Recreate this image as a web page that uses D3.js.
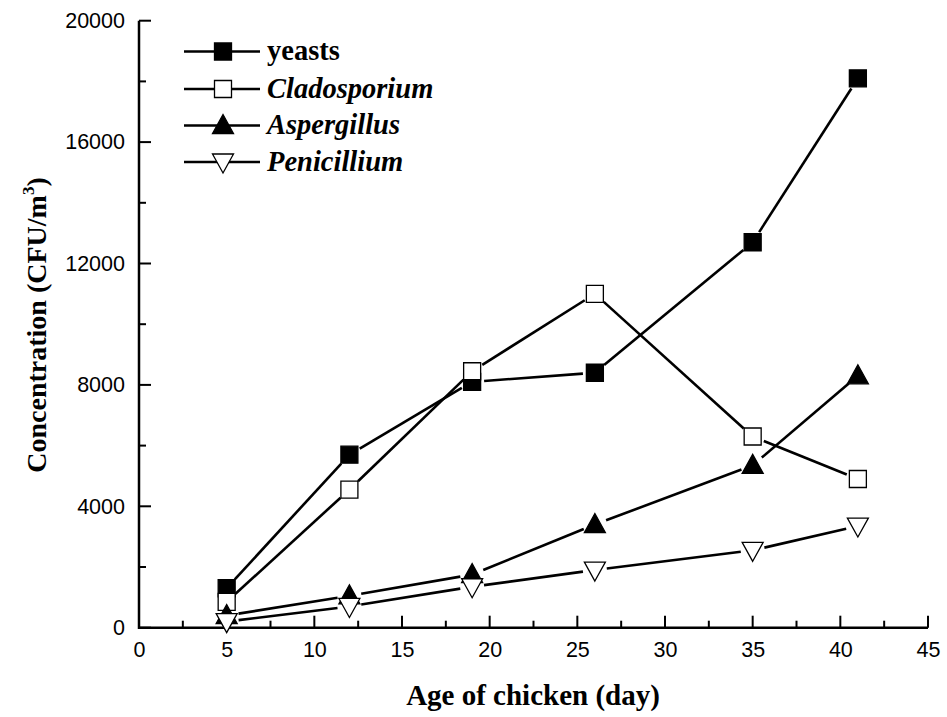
<!DOCTYPE html>
<html>
<head>
<meta charset="utf-8">
<script src="https://cdn.jsdelivr.net/npm/d3@7"></script>
<style>
  body { margin: 0; background: #fff; }
</style>
</head>
<body>
<div id="mainDiv"></div>
<script>
'use strict';

var days = [5, 12, 19, 26, 35, 41];
var yeasts = [1300, 5700, 8100, 8400, 12700, 18100];
var cladosporium = [850, 4550, 8450, 11000, 6300, 4900];
var aspergillus = [400, 1050, 1750, 3400, 5350, 8300];
var penicillium = [200, 700, 1350, 1900, 2550, 3350];
var seriesNames = ["yeasts", "Cladosporium", "Aspergillus", "Penicillium"];
var xTicks = [0, 5, 10, 15, 20, 25, 30, 35, 40, 45];
var yTicks = [0, 4000, 8000, 12000, 16000, 20000];

var myApp = {};

myApp.width = 947;
myApp.height = 717;
myApp.left = 139;
myApp.right = 928;
myApp.top = 20.7;
myApp.bottom = 627.7;
myApp.serif = "'Liberation Serif', 'Times New Roman', serif";
myApp.sans = "'Liberation Sans', Arial, sans-serif";

myApp.symbolPath = function (kind) {
    if (kind === "square") return "M-8.5,-8.5H8.5V8.5H-8.5Z";
    if (kind === "up") return "M0,-11L10.5,8L-10.5,8Z";
    return "M0,11L10.5,-8L-10.5,-8Z";
};

myApp.run = function () {
    var svg = d3.select("#mainDiv").append("svg")
        .attr("width", myApp.width)
        .attr("height", myApp.height);

    var x = d3.scaleLinear().domain([0, 45]).range([myApp.left, myApp.right]);
    var y = d3.scaleLinear().domain([0, 20000]).range([myApp.bottom, myApp.top]);

    var series = [
        { name: seriesNames[0], values: yeasts, shape: "square", fill: "#000", italic: false },
        { name: seriesNames[1], values: cladosporium, shape: "square", fill: "#fff", italic: true },
        { name: seriesNames[2], values: aspergillus, shape: "up", fill: "#000", italic: true },
        { name: seriesNames[3], values: penicillium, shape: "down", fill: "#fff", italic: true }
    ];

    // axes (left + bottom only, ticks pointing in)
    var xAxis = d3.axisBottom(x).tickValues(xTicks).tickFormat(d3.format("d")).tickSize(0).tickPadding(14);
    var gx = svg.append("g").attr("transform", "translate(0," + myApp.bottom + ")").call(xAxis);
    gx.select(".domain").remove();
    gx.selectAll("text").attr("font-family", myApp.sans)
        .attr("font-size", "21.5px").attr("fill", "#000");

    var yAxis = d3.axisLeft(y).tickValues(yTicks).tickFormat(d3.format("d")).tickSize(0).tickPadding(14);
    var gy = svg.append("g").attr("transform", "translate(" + myApp.left + ",0)").call(yAxis);
    gy.select(".domain").remove();
    gy.selectAll("text").attr("font-family", myApp.sans)
        .attr("font-size", "21.5px").attr("fill", "#000");

    var tickG = svg.append("g").attr("stroke", "#000").attr("stroke-width", 2);
    d3.range(0, 45.01, 2.5).forEach(function (v) {
        var major = Math.abs(v % 5) < 1e-6;
        tickG.append("line").attr("x1", x(v)).attr("x2", x(v))
            .attr("y1", myApp.bottom).attr("y2", myApp.bottom - (major ? 12 : 7));
    });
    d3.range(0, 20001, 2000).forEach(function (v) {
        var major = v % 4000 === 0;
        tickG.append("line").attr("y1", y(v)).attr("y2", y(v))
            .attr("x1", myApp.left).attr("x2", myApp.left + (major ? 12 : 7));
    });
    svg.append("path")
        .attr("d", "M" + myApp.left + "," + myApp.top + "V" + myApp.bottom + "H" + myApp.right)
        .attr("fill", "none").attr("stroke", "#000").attr("stroke-width", 2.5);

    // lines with gaps at markers
    var gap = 12;
    series.forEach(function (s) {
        var pts = days.map(function (d, i) { return [x(d), y(s.values[i])]; });
        for (var i = 0; i < pts.length - 1; i++) {
            var a = pts[i], b = pts[i + 1];
            var dx = b[0] - a[0], dy = b[1] - a[1];
            var len = Math.sqrt(dx * dx + dy * dy);
            if (len <= 2 * gap) continue;
            var ux = dx / len, uy = dy / len;
            svg.append("line")
                .attr("x1", a[0] + ux * gap).attr("y1", a[1] + uy * gap)
                .attr("x2", b[0] - ux * gap).attr("y2", b[1] - uy * gap)
                .attr("stroke", "#000").attr("stroke-width", 2.6);
        }
    });

    series.forEach(function (s) {
        svg.append("g").selectAll("path")
            .data(s.values)
            .enter()
            .append("path")
                .attr("d", myApp.symbolPath(s.shape))
                .attr("transform", function (d, i) { return "translate(" + x(days[i]) + "," + y(d) + ")"; })
                .attr("fill", s.fill)
                .attr("stroke", "#000")
                .attr("stroke-width", 1.3);
    });

    // legend
    var legend = svg.append("g");
    var rows = [51.5, 89, 125.5, 162];
    series.forEach(function (s, i) {
        legend.append("line").attr("x1", 184).attr("x2", 260)
            .attr("y1", rows[i]).attr("y2", rows[i])
            .attr("stroke", "#000").attr("stroke-width", 2.6);
        legend.append("path").attr("d", myApp.symbolPath(s.shape))
            .attr("transform", "translate(223," + rows[i] + ")")
            .attr("fill", s.fill).attr("stroke", "#000").attr("stroke-width", 1.3);
        legend.append("text").attr("x", 267).attr("y", rows[i] + 8.5)
            .attr("font-family", myApp.serif)
            .attr("font-size", "28.5px").attr("font-weight", "bold")
            .attr("font-style", s.italic ? "italic" : "normal")
            .text(s.name);
    });

    // axis titles
    svg.append("text").attr("x", 533).attr("y", 705)
        .attr("text-anchor", "middle")
        .attr("font-family", myApp.serif)
        .attr("font-size", "29px").attr("font-weight", "bold")
        .text("Age of chicken (day)");

    var yt = svg.append("text")
        .attr("transform", "translate(46,325) rotate(-90)")
        .attr("text-anchor", "middle")
        .attr("font-family", myApp.serif)
        .attr("font-size", "28px").attr("font-weight", "bold");
    yt.append("tspan").text("Concentration (CFU/m");
    yt.append("tspan").attr("dy", -12).attr("font-size", "17px").text("3");
    yt.append("tspan").attr("dy", 12).text(")");
};

window.onload = myApp.run;
</script>
</body>
</html>
